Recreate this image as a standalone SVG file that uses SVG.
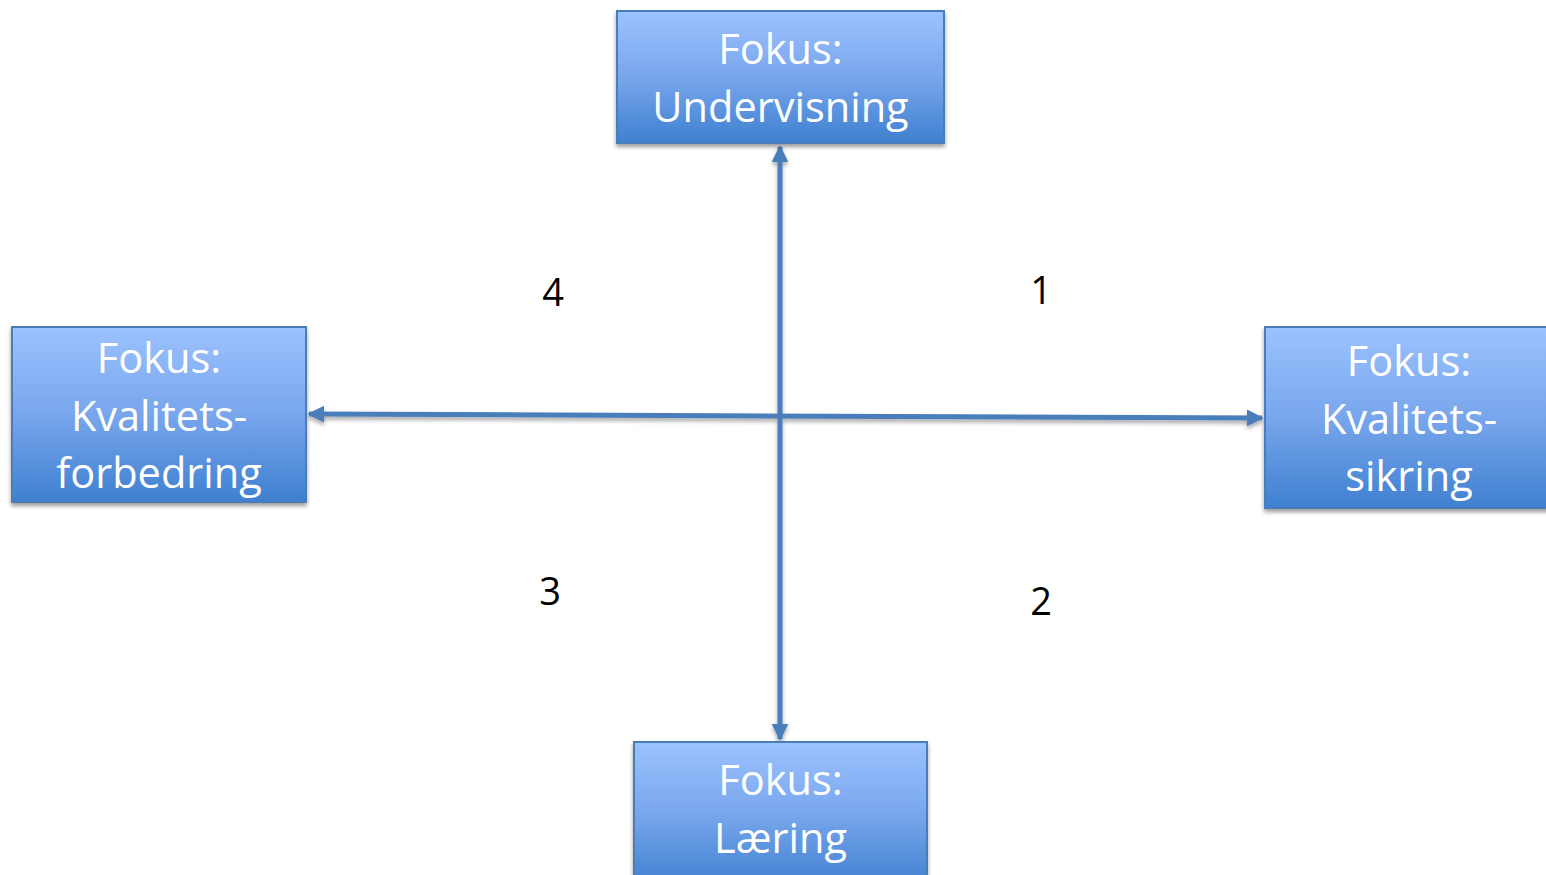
<svg xmlns="http://www.w3.org/2000/svg" width="1546" height="875" viewBox="0 0 1546 875">
<defs>
<linearGradient id="g" x1="0" y1="0" x2="0" y2="1">
<stop offset="0" stop-color="#9cc2ff"/>
<stop offset="0.5" stop-color="#78a6ec"/>
<stop offset="1" stop-color="#3f80d0"/>
</linearGradient>
<filter id="sh" x="-10%" y="-10%" width="120%" height="130%">
<feGaussianBlur in="SourceAlpha" stdDeviation="2"/>
<feOffset dx="0" dy="3"/>
<feComponentTransfer><feFuncA type="linear" slope="0.4"/></feComponentTransfer>
<feMerge><feMergeNode/><feMergeNode in="SourceGraphic"/></feMerge>
</filter>
<filter id="lsh" filterUnits="userSpaceOnUse" x="0" y="0" width="1546" height="875">
<feGaussianBlur in="SourceAlpha" stdDeviation="2"/>
<feOffset dx="0" dy="3"/>
<feComponentTransfer><feFuncA type="linear" slope="0.35"/></feComponentTransfer>
<feMerge><feMergeNode/><feMergeNode in="SourceGraphic"/></feMerge>
</filter>
<marker id="ah" viewBox="0 0 10 10" refX="9" refY="5" markerWidth="3.4" markerHeight="3.4" orient="auto-start-reverse" markerUnits="strokeWidth">
<path d="M0,0 L10,5 L0,10 Z" fill="#4a7ebb"/>
</marker>
</defs>
<style>
.box{fill:url(#g);stroke:#4a7ebb;stroke-width:2;filter:url(#sh)}
.lbl{font-family:"Open Sans","Liberation Sans",sans-serif;font-size:41.5px;fill:#ffffff;text-anchor:middle}
.num{font-family:"Open Sans","Liberation Sans",sans-serif;font-size:38px;fill:#000000;text-anchor:middle}
.con{stroke:#4a7ebb;stroke-width:5;fill:none}
</style>
<rect width="1546" height="875" fill="#ffffff"/>
<g id="connectors" filter="url(#lsh)">
<line class="con" x1="780" y1="147" x2="780" y2="739" marker-start="url(#ah)" marker-end="url(#ah)"/>
<line class="con" x1="309" y1="414" x2="1262" y2="418" marker-start="url(#ah)" marker-end="url(#ah)"/>
</g>
<g id="node-undervisning">
<rect class="box" x="617" y="11" width="327" height="132"/>
<text class="lbl" x="780.5" y="64">Fokus:</text>
<text class="lbl" x="780.5" y="122">Undervisning</text>
</g>
<g id="node-kvalitetsforbedring">
<rect class="box" x="12" y="327" width="294" height="175"/>
<text class="lbl" x="159" y="373">Fokus:</text>
<text class="lbl" x="159" y="431">Kvalitets-</text>
<text class="lbl" x="159" y="488">forbedring</text>
</g>
<g id="node-kvalitetssikring">
<rect class="box" x="1265" y="327" width="290" height="181"/>
<text class="lbl" x="1409" y="376">Fokus:</text>
<text class="lbl" x="1409" y="434">Kvalitets-</text>
<text class="lbl" x="1409" y="491">sikring</text>
</g>
<g id="node-laering">
<rect class="box" x="634" y="742" width="293" height="145"/>
<text class="lbl" x="780.5" y="795">Fokus:</text>
<text class="lbl" x="780.5" y="853">Læring</text>
</g>
<g id="labels">
<text class="num" x="553" y="306">4</text>
<text class="num" x="1041" y="304">1</text>
<text class="num" x="550" y="605">3</text>
<text class="num" x="1041" y="615">2</text>
</g>
</svg>
